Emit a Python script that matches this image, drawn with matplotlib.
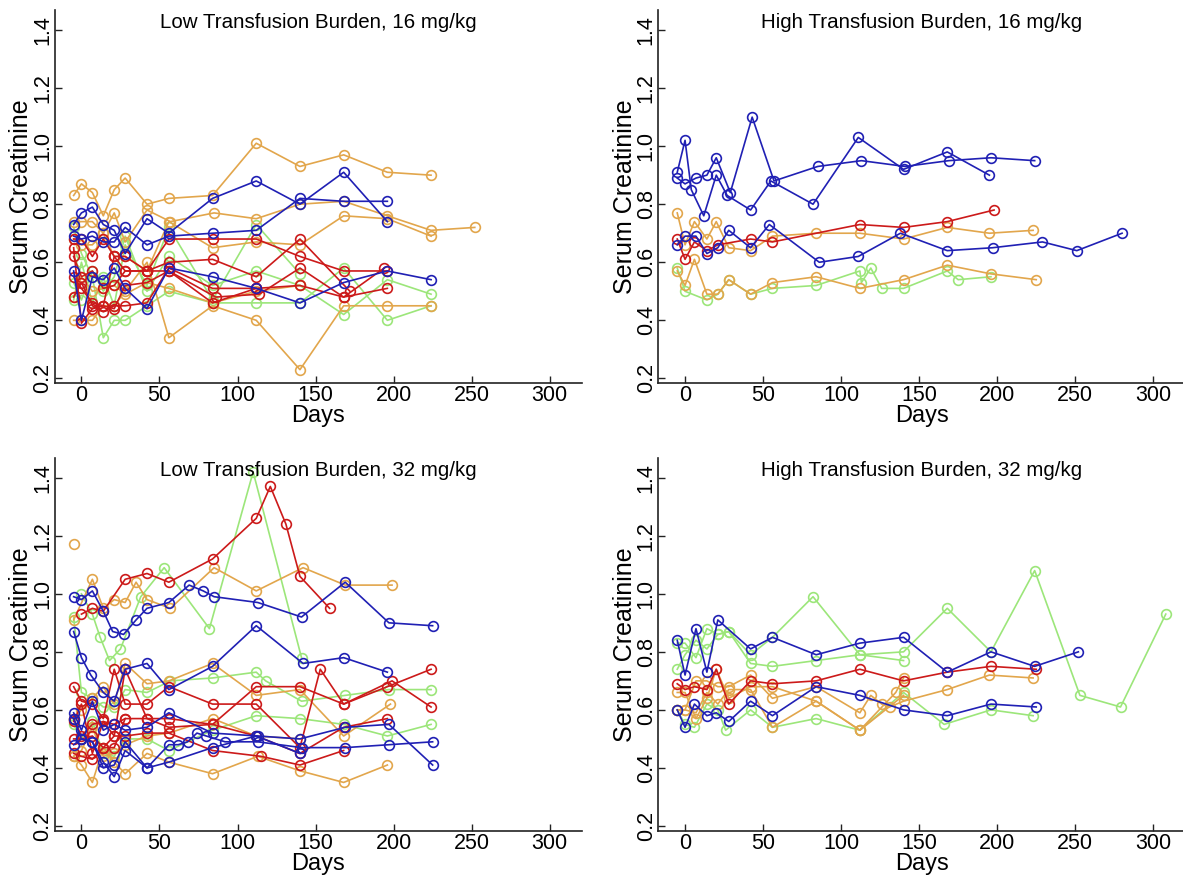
import matplotlib
matplotlib.use("Agg")
import matplotlib.pyplot as plt

plt.rcParams['font.family'] = ['Liberation Sans', 'DejaVu Sans']

# ---------------- colours ----------------
BLUE = '#2020B4'
RED = '#CC1A1A'
ORANGE = '#E2A64C'
GREEN = '#9CE67A'

X_TICKS = [0, 50, 100, 150, 200, 250, 300]
Y_TICKS = [0.2, 0.4, 0.6, 0.8, 1.0, 1.2, 1.4]
X_LABEL = "Days"
Y_LABEL = "Serum Creatinine"

# ---------------- Low Transfusion Burden, 16 mg/kg ----------------
tl_o1_d = [-5, 0, 7, 14, 21, 28, 42, 56, 84, 112, 140, 168, 196, 224]
tl_o1_v = [0.83, 0.87, 0.84, 0.76, 0.85, 0.89, 0.80, 0.82, 0.83, 1.01, 0.93, 0.97, 0.91, 0.90]
tl_o2_d = [-5, 0, 7, 14, 21, 28, 42, 57, 85, 112, 140, 168, 196, 224, 252]
tl_o2_v = [0.74, 0.74, 0.74, 0.70, 0.77, 0.67, 0.78, 0.74, 0.77, 0.75, 0.80, 0.81, 0.76, 0.71, 0.72]
tl_o3_d = [-5, 0, 7, 14, 21, 28, 42, 56, 84, 112, 140, 168, 196, 224]
tl_o3_v = [0.68, 0.66, 0.66, 0.70, 0.62, 0.62, 0.57, 0.74, 0.65, 0.67, 0.66, 0.76, 0.75, 0.69]
tl_o4_d = [-5, 0, 7, 14, 21, 28, 42, 56, 84, 112, 140, 168, 196, 224]
tl_o4_v = [0.40, 0.40, 0.40, 0.45, 0.45, 0.50, 0.60, 0.34, 0.45, 0.40, 0.23, 0.45, 0.45, 0.45]
tl_o5_d = [-5, 0, 7, 14, 21, 28, 42, 56, 84, 112, 140]
tl_o5_v = [0.48, 0.55, 0.50, 0.51, 0.52, 0.49, 0.53, 0.51, 0.46, 0.50, 0.52]

tl_b1_d = [-5, 0, 7, 14, 21, 28, 42, 56, 84, 112, 140, 168, 196]
tl_b1_v = [0.73, 0.77, 0.79, 0.73, 0.71, 0.63, 0.75, 0.70, 0.82, 0.88, 0.80, 0.91, 0.74]
tl_b2_d = [-5, 0, 7, 14, 21, 28, 42, 56, 84, 112, 140, 168, 196]
tl_b2_v = [0.69, 0.68, 0.69, 0.67, 0.67, 0.72, 0.66, 0.69, 0.70, 0.71, 0.82, 0.81, 0.81]
tl_b3_d = [-5, 0, 7, 14, 21, 28, 42, 56, 84, 112, 140, 168, 196, 224]
tl_b3_v = [0.57, 0.40, 0.55, 0.54, 0.58, 0.51, 0.44, 0.58, 0.55, 0.51, 0.46, 0.53, 0.57, 0.54]

tl_r1_d = [-5, 0, 7, 14, 21, 28, 42, 56, 84, 112, 140, 168, 196]
tl_r1_v = [0.68, 0.68, 0.62, 0.68, 0.62, 0.62, 0.57, 0.68, 0.68, 0.68, 0.62, 0.57, 0.57]
tl_r2_d = [-5, 0, 7, 14, 21, 28, 42, 56, 84, 112, 140, 172]
tl_r2_v = [0.62, 0.55, 0.57, 0.51, 0.52, 0.57, 0.57, 0.60, 0.61, 0.55, 0.68, 0.50]
tl_r3_d = [-5, 0, 7, 14, 21, 28, 42, 56, 84, 112, 140, 168, 196]
tl_r3_v = [0.48, 0.53, 0.45, 0.43, 0.45, 0.45, 0.46, 0.58, 0.51, 0.51, 0.52, 0.48, 0.51]
tl_r4_d = [-5, 0, 7, 14, 21, 28, 42, 56, 86, 114, 140, 168, 194]
tl_r4_v = [0.65, 0.39, 0.44, 0.45, 0.44, 0.52, 0.53, 0.57, 0.48, 0.49, 0.58, 0.48, 0.58]
tl_r5_d = [-5, 0, 7, 14, 21, 28, 42, 56, 84, 112]
tl_r5_v = [0.55, 0.51, 0.46, 0.45, 0.62, 0.57, 0.57, 0.57, 0.46, 0.51]

tl_g1_d = [-5, 0, 7, 14, 21, 28, 42, 56, 84, 112, 140, 168, 196, 224]
tl_g1_v = [0.72, 0.63, 0.55, 0.34, 0.40, 0.40, 0.45, 0.50, 0.46, 0.46, 0.46, 0.58, 0.40, 0.45]
tl_g2_d = [-5, 0, 7, 14, 21, 28, 42, 56, 84, 112, 140, 168, 196, 224]
tl_g2_v = [0.53, 0.47, 0.57, 0.50, 0.55, 0.69, 0.50, 0.62, 0.52, 0.57, 0.52, 0.42, 0.54, 0.49]
tl_g3_d = [-5, 0, 7, 14, 21, 28, 42, 56, 84, 112, 140]
tl_g3_v = [0.47, 0.60, 0.46, 0.55, 0.45, 0.66, 0.52, 0.72, 0.47, 0.73, 0.56]

# ---------------- High Transfusion Burden, 16 mg/kg ----------------
tr_b1_d = [-5, 0, 4, 12, 20, 27, 42, 55, 82, 111, 140, 168, 195]
tr_b1_v = [0.91, 1.02, 0.85, 0.76, 0.90, 0.83, 0.78, 0.88, 0.80, 1.03, 0.92, 0.98, 0.90]
tr_b2_d = [-5, 0, 7, 14, 20, 29, 43, 57, 85, 113, 141, 169, 196, 224]
tr_b2_v = [0.89, 0.87, 0.89, 0.90, 0.96, 0.84, 1.10, 0.88, 0.93, 0.95, 0.93, 0.95, 0.96, 0.95]
tr_b3_d = [-5, 0, 7, 14, 21, 28, 42, 54, 86, 111, 138, 168, 197, 229, 251, 280]
tr_b3_v = [0.66, 0.69, 0.69, 0.63, 0.65, 0.71, 0.65, 0.73, 0.60, 0.62, 0.70, 0.64, 0.65, 0.67, 0.64, 0.70]
tr_r1_d = [-5, 0, 6, 14, 21, 42, 56, 112, 140, 168, 198]
tr_r1_v = [0.68, 0.61, 0.67, 0.64, 0.66, 0.68, 0.67, 0.73, 0.72, 0.74, 0.78]
tr_o1_d = [-5, 0, 6, 14, 20, 28, 42, 56, 84, 112, 140, 168, 195, 223]
tr_o1_v = [0.77, 0.66, 0.74, 0.68, 0.74, 0.65, 0.64, 0.69, 0.70, 0.70, 0.68, 0.72, 0.70, 0.71]
tr_o2_d = [-5, 0, 6, 14, 21, 28, 42, 56, 84, 112, 140, 168, 196, 225]
tr_o2_v = [0.57, 0.52, 0.61, 0.49, 0.49, 0.54, 0.49, 0.53, 0.55, 0.51, 0.54, 0.59, 0.56, 0.54]
tr_g1_d = [-5, 0, 14, 21, 28, 42, 56, 84, 112, 113, 119, 126, 140, 168, 175, 196]
tr_g1_v = [0.58, 0.50, 0.47, 0.49, 0.54, 0.49, 0.51, 0.52, 0.57, 0.53, 0.58, 0.51, 0.51, 0.57, 0.54, 0.55]

# ---------------- Low Transfusion Burden, 32 mg/kg ----------------
bl_r1_d = [0, 7, 14, 28, 42, 56, 84, 112, 121, 131, 140, 159]
bl_r1_v = [0.93, 0.95, 0.94, 1.05, 1.07, 1.04, 1.12, 1.26, 1.37, 1.24, 1.06, 0.95]
bl_r2_d = [-5, 0, 7, 14, 21, 28, 42, 56, 84, 112, 140, 153, 168, 199, 224]
bl_r2_v = [0.68, 0.63, 0.62, 0.57, 0.74, 0.62, 0.62, 0.68, 0.62, 0.62, 0.47, 0.74, 0.62, 0.70, 0.61]
bl_r3_d = [-5, 0, 7, 14, 21, 28, 42, 56, 84, 112, 140, 168, 196, 224]
bl_r3_v = [0.57, 0.51, 0.55, 0.56, 0.51, 0.74, 0.57, 0.57, 0.55, 0.68, 0.68, 0.62, 0.68, 0.74]
bl_r4_d = [-5, 0, 7, 14, 21, 28, 42, 56, 84, 112, 140, 168, 196]
bl_r4_v = [0.50, 0.50, 0.51, 0.47, 0.47, 0.57, 0.57, 0.54, 0.55, 0.51, 0.45, 0.54, 0.57]
bl_r5_d = [-5, 0, 7, 14, 21, 28, 42, 56, 84, 115, 140, 168]
bl_r5_v = [0.45, 0.44, 0.43, 0.47, 0.51, 0.51, 0.52, 0.52, 0.46, 0.44, 0.41, 0.46]
bl_r6_d = [-5, 0, 7, 14, 21, 28]
bl_r6_v = [0.56, 0.62, 0.45, 0.56, 0.55, 0.57]

bl_o1_d = [-5, 7, 14, 21, 28, 35, 42, 57, 85, 112, 142, 169, 199]
bl_o1_v = [0.91, 1.05, 0.95, 0.98, 0.97, 1.04, 0.98, 0.95, 1.09, 1.01, 1.09, 1.03, 1.03]
bl_o2_d = [-5, 0, 7, 14, 21, 28, 42, 56, 84, 113, 140, 168, 196]
bl_o2_v = [0.44, 0.41, 0.35, 0.47, 0.42, 0.38, 0.45, 0.42, 0.38, 0.44, 0.39, 0.35, 0.41]
bl_o3_d = [-5, 0, 7, 14, 21, 28, 42, 56, 84, 112, 140, 168, 198]
bl_o3_v = [0.57, 0.60, 0.64, 0.68, 0.62, 0.76, 0.69, 0.70, 0.76, 0.65, 0.67, 0.51, 0.62]
bl_o4_d = [-5, 0, 7, 14, 21, 28, 42, 56, 84, 112, 140]
bl_o4_v = [0.44, 0.46, 0.54, 0.44, 0.45, 0.48, 0.51, 0.52, 0.57, 0.51, 0.50]
bl_o5_d = [-5]
bl_o5_v = [1.17]

bl_b1_d = [-5, 0, 7, 14, 20, 27, 35, 42, 56, 69, 78, 85, 113, 141, 169, 197, 225]
bl_b1_v = [0.99, 0.98, 1.01, 0.94, 0.87, 0.86, 0.91, 0.95, 0.97, 1.03, 1.01, 0.99, 0.97, 0.92, 1.04, 0.90, 0.89]
bl_b2_d = [-5, 0, 6, 14, 21, 28, 42, 56, 84, 112, 142, 168, 196]
bl_b2_v = [0.87, 0.78, 0.72, 0.66, 0.63, 0.74, 0.76, 0.67, 0.75, 0.89, 0.76, 0.78, 0.73]
bl_b3_d = [-5, 0, 7, 14, 21, 28, 42, 56, 84, 113, 140, 169, 197, 225]
bl_b3_v = [0.59, 0.53, 0.63, 0.53, 0.55, 0.53, 0.54, 0.59, 0.52, 0.51, 0.50, 0.54, 0.55, 0.41]
bl_b4_d = [-5, 0, 7, 14, 21, 28, 42, 56, 62, 68, 74, 80, 92, 113, 141, 169, 197, 225]
bl_b4_v = [0.48, 0.50, 0.49, 0.42, 0.37, 0.46, 0.40, 0.48, 0.48, 0.49, 0.52, 0.51, 0.49, 0.49, 0.47, 0.47, 0.48, 0.49]
bl_b5_d = [-5, 0, 7, 14, 21, 28, 42, 56, 84, 112, 140]
bl_b5_v = [0.57, 0.50, 0.49, 0.40, 0.41, 0.49, 0.40, 0.42, 0.47, 0.51, 0.45]

bl_g1_d = [0, 7, 12, 18, 25, 38, 53, 82, 110, 141]
bl_g1_v = [1.00, 0.93, 0.85, 0.77, 0.81, 0.99, 1.09, 0.88, 1.42, 0.78]
bl_g2_d = [-5, 0, 7, 14, 21, 28, 42, 57, 84, 112, 118, 141, 169, 197, 224]
bl_g2_v = [0.92, 0.66, 0.64, 0.61, 0.61, 0.67, 0.66, 0.70, 0.71, 0.73, 0.70, 0.63, 0.65, 0.67, 0.67]
bl_g3_d = [-5, 0, 7, 14, 21, 28, 42, 56, 84, 112, 140, 168, 196, 224]
bl_g3_v = [0.55, 0.50, 0.56, 0.45, 0.44, 0.50, 0.50, 0.46, 0.53, 0.58, 0.57, 0.55, 0.51, 0.55]

# ---------------- High Transfusion Burden, 32 mg/kg ----------------
br_g1_d = [-5, 0, 7, 14, 21, 28, 42, 56, 82, 112, 140, 168, 196, 224, 253, 279, 308]
br_g1_v = [0.74, 0.79, 0.84, 0.81, 0.86, 0.87, 0.79, 0.85, 0.99, 0.79, 0.80, 0.95, 0.80, 1.08, 0.65, 0.61, 0.93]
br_g2_d = [-5, 0, 7, 14, 21, 28, 42, 56, 84, 112, 140]
br_g2_v = [0.83, 0.83, 0.78, 0.88, 0.86, 0.87, 0.76, 0.75, 0.77, 0.79, 0.77]
br_g3_d = [-5, 0, 6, 14, 21, 26, 42, 56, 84, 112, 140, 166, 196, 223]
br_g3_v = [0.60, 0.55, 0.54, 0.62, 0.60, 0.53, 0.60, 0.54, 0.57, 0.53, 0.66, 0.55, 0.60, 0.58]
br_o1_d = [-5, 0, 7, 14, 21, 28, 42, 56, 84, 112, 119, 126, 131, 140, 168, 195, 223]
br_o1_v = [0.60, 0.60, 0.70, 0.70, 0.68, 0.68, 0.72, 0.64, 0.68, 0.59, 0.65, 0.62, 0.61, 0.63, 0.67, 0.72, 0.71]
br_o2_d = [-5, 0, 7, 14, 20, 28, 42, 56, 84, 112, 135, 140]
br_o2_v = [0.66, 0.66, 0.57, 0.64, 0.74, 0.64, 0.68, 0.68, 0.63, 0.53, 0.66, 0.71]
br_o3_d = [-5, 0, 7, 14, 21, 28, 42, 56, 84, 112, 140]
br_o3_v = [0.60, 0.60, 0.59, 0.66, 0.62, 0.67, 0.67, 0.54, 0.63, 0.53, 0.65]
br_b1_d = [-5, 0, 7, 14, 21, 42, 56, 84, 112, 140, 168, 196, 224, 252]
br_b1_v = [0.84, 0.72, 0.88, 0.73, 0.91, 0.81, 0.85, 0.79, 0.83, 0.85, 0.73, 0.80, 0.75, 0.80]
br_b2_d = [-5, 0, 6, 14, 20, 28, 42, 56, 84, 112, 140, 168, 196, 225]
br_b2_v = [0.60, 0.54, 0.62, 0.58, 0.59, 0.56, 0.63, 0.58, 0.68, 0.65, 0.60, 0.58, 0.62, 0.61]
br_r1_d = [-5, 0, 6, 14, 20, 28, 42, 56, 84, 112, 140, 168, 196, 225]
br_r1_v = [0.69, 0.67, 0.68, 0.67, 0.74, 0.62, 0.70, 0.69, 0.70, 0.74, 0.70, 0.73, 0.75, 0.74]

panels = [
    ("Low Transfusion Burden, 16 mg/kg",
     [(GREEN, tl_g1_d, tl_g1_v), (GREEN, tl_g2_d, tl_g2_v), (GREEN, tl_g3_d, tl_g3_v),
      (ORANGE, tl_o1_d, tl_o1_v), (ORANGE, tl_o2_d, tl_o2_v), (ORANGE, tl_o3_d, tl_o3_v),
      (ORANGE, tl_o4_d, tl_o4_v), (ORANGE, tl_o5_d, tl_o5_v),
      (RED, tl_r1_d, tl_r1_v), (RED, tl_r2_d, tl_r2_v), (RED, tl_r3_d, tl_r3_v),
      (RED, tl_r4_d, tl_r4_v), (RED, tl_r5_d, tl_r5_v),
      (BLUE, tl_b1_d, tl_b1_v), (BLUE, tl_b2_d, tl_b2_v), (BLUE, tl_b3_d, tl_b3_v)]),
    ("High Transfusion Burden, 16 mg/kg",
     [(GREEN, tr_g1_d, tr_g1_v), (ORANGE, tr_o1_d, tr_o1_v), (ORANGE, tr_o2_d, tr_o2_v),
      (RED, tr_r1_d, tr_r1_v),
      (BLUE, tr_b1_d, tr_b1_v), (BLUE, tr_b2_d, tr_b2_v), (BLUE, tr_b3_d, tr_b3_v)]),
    ("Low Transfusion Burden, 32 mg/kg",
     [(GREEN, bl_g1_d, bl_g1_v), (GREEN, bl_g2_d, bl_g2_v), (GREEN, bl_g3_d, bl_g3_v),
      (ORANGE, bl_o1_d, bl_o1_v), (ORANGE, bl_o2_d, bl_o2_v), (ORANGE, bl_o3_d, bl_o3_v),
      (ORANGE, bl_o4_d, bl_o4_v), (ORANGE, bl_o5_d, bl_o5_v),
      (RED, bl_r1_d, bl_r1_v), (RED, bl_r2_d, bl_r2_v), (RED, bl_r3_d, bl_r3_v),
      (RED, bl_r4_d, bl_r4_v), (RED, bl_r5_d, bl_r5_v), (RED, bl_r6_d, bl_r6_v),
      (BLUE, bl_b1_d, bl_b1_v), (BLUE, bl_b2_d, bl_b2_v), (BLUE, bl_b3_d, bl_b3_v),
      (BLUE, bl_b4_d, bl_b4_v), (BLUE, bl_b5_d, bl_b5_v)]),
    ("High Transfusion Burden, 32 mg/kg",
     [(GREEN, br_g1_d, br_g1_v), (GREEN, br_g2_d, br_g2_v), (GREEN, br_g3_d, br_g3_v),
      (ORANGE, br_o1_d, br_o1_v), (ORANGE, br_o2_d, br_o2_v), (ORANGE, br_o3_d, br_o3_v),
      (RED, br_r1_d, br_r1_v),
      (BLUE, br_b1_d, br_b1_v), (BLUE, br_b2_d, br_b2_v)]),
]

W, H = 1183, 884
fig = plt.figure(figsize=(W / 100, H / 100), dpi=100)

# axes boxes in pixels: (left, top, width, height)
boxes = [(54.6, 10.0, 527.4, 373.3), (658.2, 10.0, 527.4, 373.3),
         (54.6, 457.7, 527.4, 373.2), (658.2, 457.7, 527.4, 373.2)]

for (title, series), (lx, ty, w, h) in zip(panels, boxes):
    ax = fig.add_axes([lx / W, 1 - (ty + h) / H, w / W, h / H])
    for col, d, v in series:
        ax.plot(d, v, '-', color=col, lw=1.2, marker='o', ms=7, mfc='none',
                mec=col, mew=1.2, clip_on=False)
    ax.set_xlim(-17.2, 320.7)
    ax.set_ylim(0.183, 1.469)
    for s in ('top', 'right'):
        ax.spines[s].set_visible(False)
    for s in ('left', 'bottom'):
        ax.spines[s].set_linewidth(1.2)
        ax.spines[s].set_color('#222222')
    ax.set_xticks(X_TICKS)
    ax.set_xticklabels([str(t) for t in X_TICKS])
    ax.set_yticks(Y_TICKS)
    ax.set_yticklabels([f"{t:.1f}" for t in Y_TICKS])
    ax.tick_params(axis='both', direction='in', length=5, width=1.0, color='#222222')
    ax.tick_params(axis='x', labelsize=15.5, pad=1.5)
    ax.tick_params(axis='y', labelsize=15.5, pad=1.0, labelrotation=90)
    for lab in ax.get_yticklabels():
        lab.set_verticalalignment('center')
    ax.text(0.5, 1 - 18.0 / h, title, transform=ax.transAxes, ha='center',
            va='baseline', fontsize=14.8)
    ax.text(0.5, -39.0 / h, X_LABEL, transform=ax.transAxes, ha='center',
            va='baseline', fontsize=17)
    ax.text((21.0 - 54.6) / w, 0.5, Y_LABEL, transform=ax.transAxes, ha='center',
            va='center', rotation=90, fontsize=18)

fig.savefig("out.png", dpi=100)
